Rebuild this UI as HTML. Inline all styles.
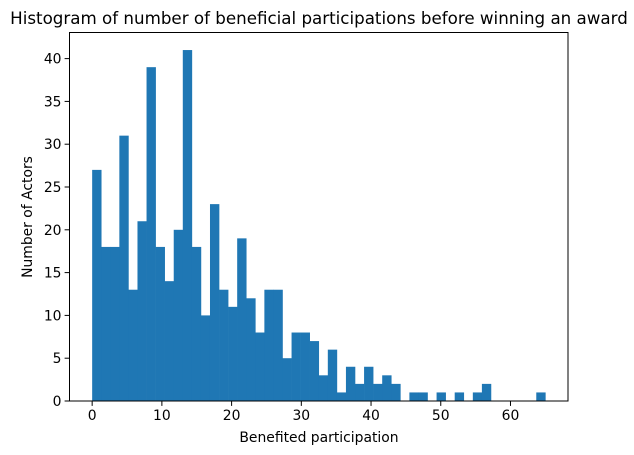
<!DOCTYPE html>
<html><head><meta charset="utf-8"><style>
html,body{margin:0;padding:0;background:#fff;}
svg{display:block;font-family:"DejaVu Sans","Liberation Sans",sans-serif;}
</style></head><body>
<svg id="chart" width="634" height="455" viewBox="0 0 634 455" xmlns="http://www.w3.org/2000/svg">
<text x="319" y="24" font-size="16.7" text-anchor="middle" fill="#000">Histogram of number of beneficial participations before winning an award</text>
<g id="bars"></g>
<g id="axes"></g>
<text x="319" y="442" font-size="13.9" text-anchor="middle">Benefited participation</text>
<text transform="translate(32,217) rotate(-90)" font-size="13.9" text-anchor="middle">Number of Actors</text>
</svg>
<script>
const counts = [27,18,18,31,13,21,39,18,14,20,41,18,10,23,13,11,19,12,8,13,13,5,8,8,7,3,6,1,4,2,4,2,3,2,0,1,1,0,1,0,1,0,1,2,0,0,0,0,0,1];
const binStart = 0;
const binEnd = 65;
const xTicks = [0,10,20,30,40,50,60];
const yTicks = [0,5,10,15,20,25,30,35,40];

const L=69.5, R=568, T=32.5, B=401;
const n = counts.length;
const bw = (binEnd-binStart)/n;
const xmin = binStart - (binEnd-binStart)*0.05, xmax = binEnd + (binEnd-binStart)*0.05;
const ymax = Math.max(...counts)*1.05;
const xs = v => L + (v-xmin)/(xmax-xmin)*(R-L);
const ys = v => B - v/ymax*(B-T);
const NS='http://www.w3.org/2000/svg';
const bars=document.getElementById('bars');
counts.forEach((c,i)=>{
  if(c<=0) return;
  const r=document.createElementNS(NS,'rect');
  const x0=xs(binStart+i*bw), x1=xs(binStart+(i+1)*bw);
  r.setAttribute('x',x0); r.setAttribute('width',x1-x0+0.3);
  r.setAttribute('y',ys(c)); r.setAttribute('height',B-ys(c));
  r.setAttribute('fill','#1f77b4');
  
  
  bars.appendChild(r);
});
const ax=document.getElementById('axes');
const fr=document.createElementNS(NS,'rect');
fr.setAttribute('x',L);fr.setAttribute('y',T);fr.setAttribute('width',R-L);fr.setAttribute('height',B-T);
fr.setAttribute('fill','none');fr.setAttribute('stroke','#000');fr.setAttribute('stroke-width','1');


ax.appendChild(fr);
xTicks.forEach(t=>{
  const x=xs(t);
  const l=document.createElementNS(NS,'line');
  l.setAttribute('x1',x);l.setAttribute('x2',x);l.setAttribute('y1',B);l.setAttribute('y2',B+4.9);l.setAttribute('stroke','#000');
  
  
  ax.appendChild(l);
  const tx=document.createElementNS(NS,'text');
  tx.setAttribute('x',x);tx.setAttribute('y',B+19);tx.setAttribute('font-size','13.9');tx.setAttribute('text-anchor','middle');
  tx.textContent=t;
  
  
  ax.appendChild(tx);
});
yTicks.forEach(t=>{
  const y=ys(t);
  const l=document.createElementNS(NS,'line');
  l.setAttribute('x1',L-4.9);l.setAttribute('x2',L);l.setAttribute('y1',y);l.setAttribute('y2',y);l.setAttribute('stroke','#000');
  
  
  ax.appendChild(l);
  const tx=document.createElementNS(NS,'text');
  tx.setAttribute('x',L-8);tx.setAttribute('y',y+5);tx.setAttribute('font-size','13.9');tx.setAttribute('text-anchor','end');
  tx.textContent=t;
  
  
  ax.appendChild(tx);
});
</script>
</body></html>
